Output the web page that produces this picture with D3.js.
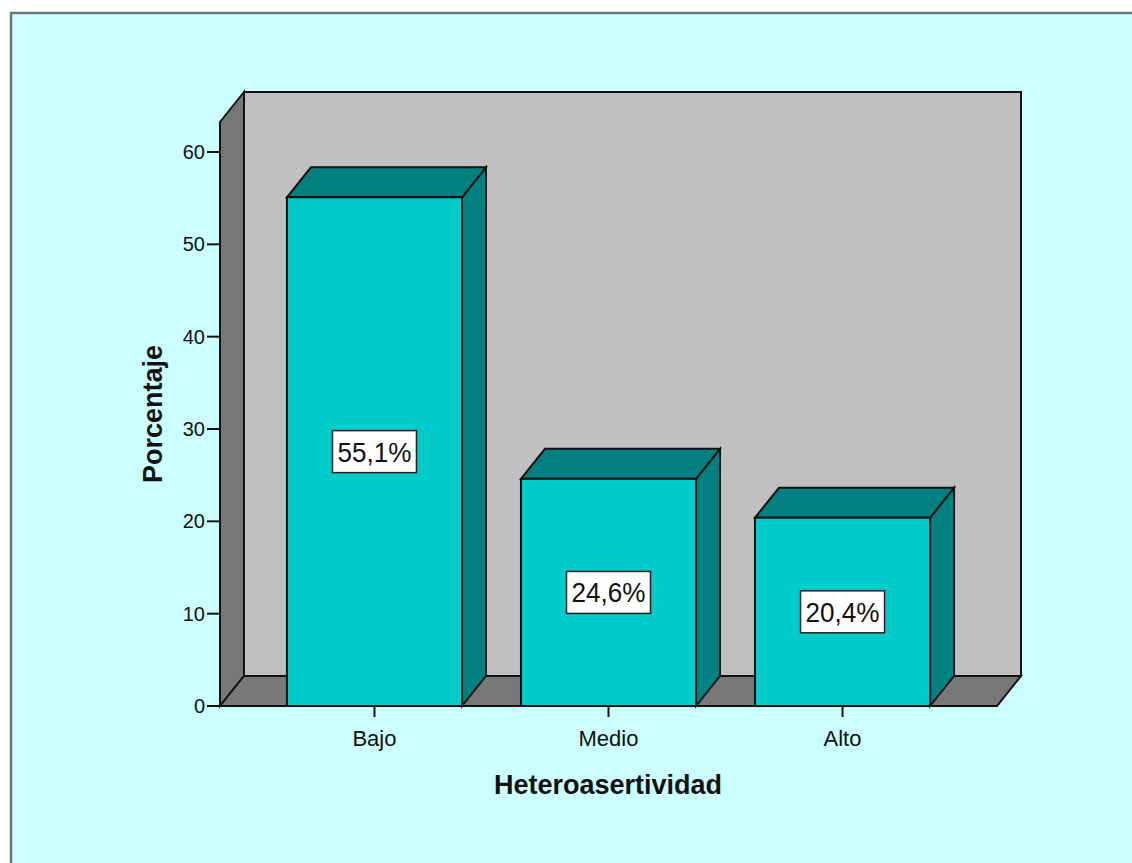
<!DOCTYPE html>
<html>
<head>
<meta charset="utf-8">
<script src="https://cdn.jsdelivr.net/npm/d3@7"></script>
<style>
  html, body { margin: 0; padding: 0; background: #ffffff; }
  svg { display: block; }
</style>
</head>
<body>
<svg id="chart" width="1132" height="863"></svg>
<script>
// Heteroasertividad: percentage per level
const categories = ["Bajo", "Medio", "Alto"];
const percentages = [55.1, 24.6, 20.4];
const yTicks = [0, 10, 20, 30, 40, 50, 60];
const xTitle = "Heteroasertividad";
const yTitle = "Porcentaje";

const svg = d3.select("#chart");
const W = 1132, H = 863;

// panel background
svg.append("rect")
  .attr("x", 11).attr("y", 13)
  .attr("width", W + 20).attr("height", H + 20)
  .attr("fill", "#ccffff")
  .attr("stroke", "#6e7878").attr("stroke-width", 2.5);

// 3D frame geometry
const x0 = 220, x1 = 997;     // front floor edge
const yBase = 706;             // value 0 on the front plane
const dx = 24, dy = -30;       // depth offset

const y = d3.scaleLinear().domain([0, 63.25]).range([yBase, 122]);
const x = d3.scaleBand()
  .domain(categories)
  .range([x0, x1])
  .paddingInner(0.252)
  .paddingOuter(0.286);

const wallTop = y(63.25);
const line = pts => "M" + pts.map(p => p.join(",")).join("L") + "Z";
const edge = { stroke: "#111", "stroke-width": 2, "stroke-linejoin": "miter" };
function styled(sel, fill) {
  sel.attr("fill", fill);
  Object.entries(edge).forEach(([k, v]) => sel.attr(k, v));
  return sel;
}

// back wall
styled(svg.append("path").attr("d", line([
  [x0 + dx, wallTop + dy], [x1 + dx, wallTop + dy],
  [x1 + dx, yBase + dy], [x0 + dx, yBase + dy]
])), "#c0c0c0");

// left wall
styled(svg.append("path").attr("d", line([
  [x0, yBase], [x0, wallTop], [x0 + dx, wallTop + dy], [x0 + dx, yBase + dy]
])), "#787878");

// floor
styled(svg.append("path").attr("d", line([
  [x0, yBase], [x1, yBase], [x1 + dx, yBase + dy], [x0 + dx, yBase + dy]
])), "#787878");

// bars
const data = categories.map((c, i) => ({ cat: c, v: percentages[i] }));
const bars = svg.append("g").selectAll("g").data(data).join("g");

bars.each(function (d) {
  const g = d3.select(this);
  const bx0 = x(d.cat), bx1 = x(d.cat) + x.bandwidth();
  const top = y(d.v);
  // side face
  styled(g.append("path").attr("d", line([
    [bx1, top], [bx1 + dx, top + dy], [bx1 + dx, yBase + dy], [bx1, yBase]
  ])), "#008080");
  // top face
  styled(g.append("path").attr("d", line([
    [bx0, top], [bx0 + dx, top + dy], [bx1 + dx, top + dy], [bx1, top]
  ])), "#008080");
  // front face
  styled(g.append("rect")
    .attr("x", bx0).attr("y", top)
    .attr("width", bx1 - bx0).attr("height", yBase - top), "#00cccc");

  // value label
  const cx = (bx0 + bx1) / 2, cy = (top + yBase) / 2;
  const txt = d3.format(".1f")(d.v).replace(".", ",") + "%";
  g.append("rect")
    .attr("x", cx - 42).attr("y", cy - 21)
    .attr("width", 84).attr("height", 42)
    .attr("fill", "#ffffff").attr("stroke", "#222").attr("stroke-width", 1.5);
  g.append("text")
    .attr("x", cx).attr("y", cy + 10)
    .attr("text-anchor", "middle")
    .attr("font-family", "Liberation Sans, Arial, sans-serif")
    .attr("font-size", 27)
    .attr("textLength", 74)
    .attr("lengthAdjust", "spacingAndGlyphs")
    .attr("fill", "#111")
    .text(txt);
});

// y axis ticks and labels
const yAxis = svg.append("g");
yAxis.selectAll("line").data(yTicks).join("line")
  .attr("x1", 207).attr("x2", x0)
  .attr("y1", d => y(d)).attr("y2", d => y(d))
  .attr("stroke", "#111").attr("stroke-width", 2);
yAxis.selectAll("text").data(yTicks).join("text")
  .attr("x", 205).attr("y", d => y(d) + 7)
  .attr("text-anchor", "end")
  .attr("font-family", "Liberation Sans, Arial, sans-serif")
  .attr("font-size", 20)
  .attr("fill", "#111")
  .text(d => d);

// x axis ticks and labels
const xAxis = svg.append("g");
xAxis.selectAll("line").data(categories).join("line")
  .attr("x1", d => x(d) + x.bandwidth() / 2).attr("x2", d => x(d) + x.bandwidth() / 2)
  .attr("y1", yBase).attr("y2", yBase + 11)
  .attr("stroke", "#111").attr("stroke-width", 2);
xAxis.selectAll("text").data(categories).join("text")
  .attr("x", d => x(d) + x.bandwidth() / 2).attr("y", 746)
  .attr("text-anchor", "middle")
  .attr("font-family", "Liberation Sans, Arial, sans-serif")
  .attr("font-size", 22)
  .attr("fill", "#111")
  .text(d => d);

// axis titles
svg.append("text")
  .attr("x", 608).attr("y", 794)
  .attr("text-anchor", "middle")
  .attr("font-family", "Liberation Sans, Arial, sans-serif")
  .attr("font-weight", "bold")
  .attr("font-size", 27)
  .attr("fill", "#111")
  .text(xTitle);

svg.append("text")
  .attr("transform", "translate(162,414) rotate(-90)")
  .attr("text-anchor", "middle")
  .attr("font-family", "Liberation Sans, Arial, sans-serif")
  .attr("font-weight", "bold")
  .attr("font-size", 27)
  .attr("fill", "#111")
  .text(yTitle);
</script>
</body>
</html>
